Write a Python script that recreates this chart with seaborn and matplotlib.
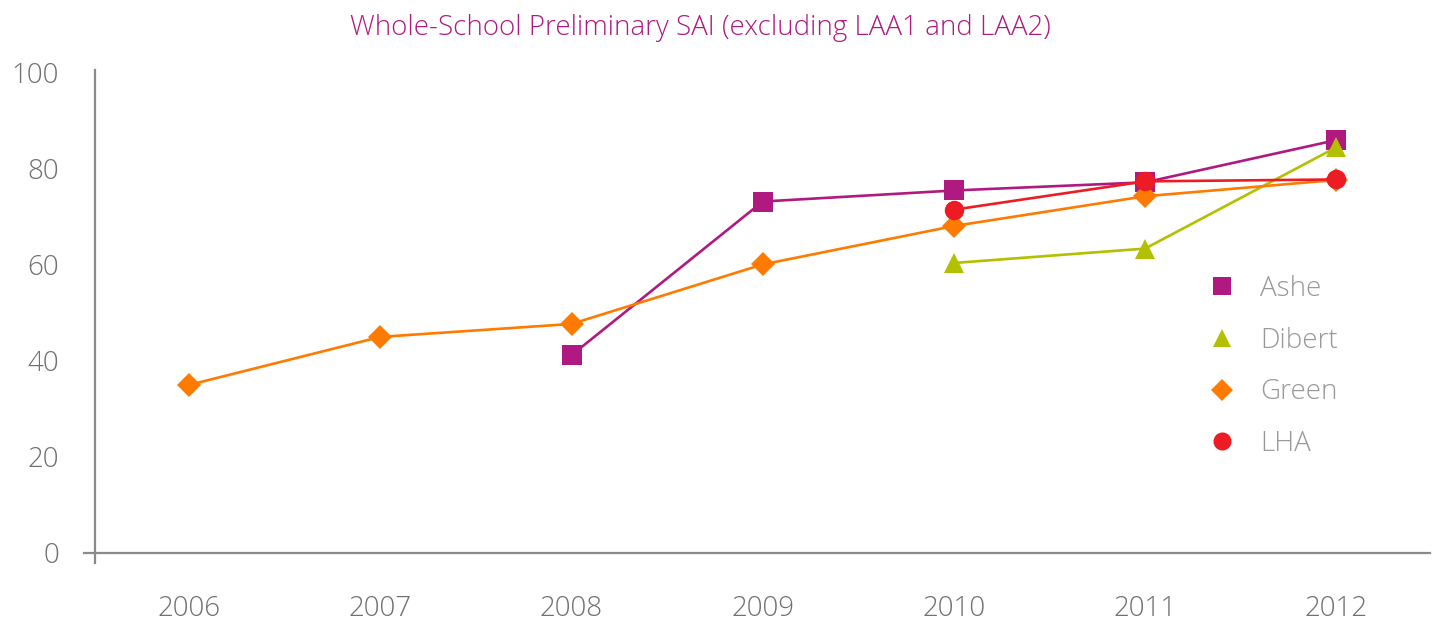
import matplotlib
matplotlib.use("Agg")
from matplotlib import pyplot as plt
from matplotlib.lines import Line2D
import pandas as pd
import seaborn as sns

# Values
years = [2006, 2007, 2008, 2009, 2010, 2011, 2012]
schools = ["Ashe", "Dibert", "Green", "LHA"]
ashe = [None, None, 41.2, 73.2, 75.5, 77.2, 86.0]
dibert = [None, None, None, None, 60.4, 63.4, 84.5]
green = [35.0, 45.0, 47.7, 60.1, 68.1, 74.3, 77.7]
lha = [None, None, None, None, 71.5, 77.4, 77.8]

colors = {"Ashe": "#b01a80", "Dibert": "#b2c000", "Green": "#ff7a00", "LHA": "#ed1c24"}
markers = {"Ashe": "s", "Dibert": "^", "Green": "D", "LHA": "o"}
sizes = {"Ashe": 14, "Dibert": 14, "Green": 12, "LHA": 14}


def main():
    sns.set_style("white")
    plt.rcParams["font.family"] = ["Open Sans", "DejaVu Sans"]
    fsize = 20

    series = {"Ashe": ashe, "Dibert": dibert, "Green": green, "LHA": lha}
    rows = []
    for name in schools:
        for yr, val in zip(years, series[name]):
            if val is not None:
                rows.append({"Year": yr, "SAI": val, "School": name})
    df = pd.DataFrame(rows)

    fig = plt.figure(figsize=(14.4, 6.21), dpi=100)
    ax = fig.add_axes([84 / 1440, 58 / 621, 1346 / 1440, 493 / 621])

    for name in schools:
        sub = df[df["School"] == name]
        sns.lineplot(data=sub, x="Year", y="SAI", ax=ax, color=colors[name],
                     marker=markers[name], markersize=sizes[name], markeredgewidth=0,
                     linewidth=1.9, legend=False)

    ax.set_xlim(2005.45, 2012.49)
    ax.set_ylim(-2.1, 100.6)
    ax.set_xticks(years)
    ax.set_yticks(range(0, 101, 20))
    ax.set_xlabel("")
    ax.set_ylabel("")

    for side in ("top", "right"):
        ax.spines[side].set_visible(False)
    ax.spines["left"].set_position(("data", 2005.508))
    ax.spines["bottom"].set_position(("data", 0))
    for side in ("left", "bottom"):
        ax.spines[side].set_color("#8a8a8a")
        ax.spines[side].set_linewidth(1.6)

    ax.tick_params(axis="both", length=0, labelsize=fsize, labelcolor="#707070")
    ax.tick_params(axis="x", pad=30)
    ax.tick_params(axis="y", pad=26)
    for lab in ax.get_xticklabels() + ax.get_yticklabels():
        lab.set_fontweight("light")

    fig.text(700 / 1440, 1 - 28 / 621, "Whole-School Preliminary SAI (excluding LAA1 and LAA2)",
             ha="center", va="center", fontsize=fsize, color="#b01a80", fontweight="light")

    handles = [Line2D([], [], linestyle="none", marker=markers[n], color=colors[n],
                      markersize=sizes[n] - 1, markeredgewidth=0) for n in schools]
    leg = fig.legend(handles, schools, loc="upper left",
                     bbox_to_anchor=(1209 / 1440, 1 - 275 / 621),
                     frameon=False, fontsize=fsize, handlelength=0.9, handletextpad=0.95,
                     labelspacing=0.85, borderpad=0, borderaxespad=0)
    for t in leg.get_texts():
        t.set_color("#999999")
        t.set_fontweight("light")

    fig.savefig("out.png", dpi=100)


if __name__ == "__main__":
    main()
